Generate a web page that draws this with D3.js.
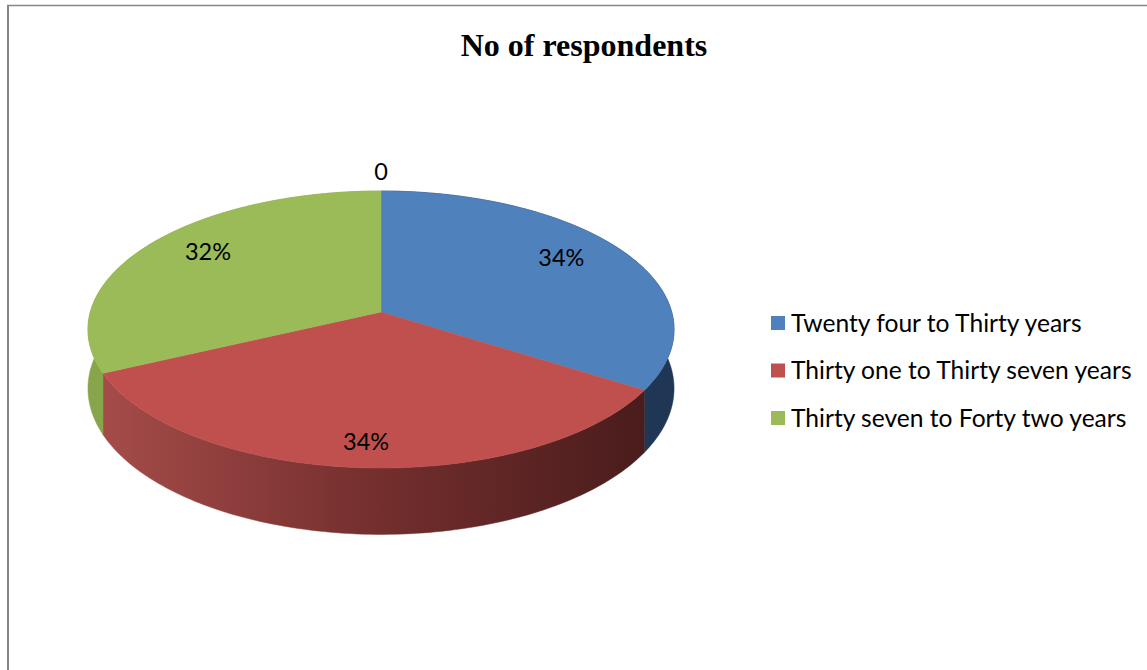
<!DOCTYPE html>
<html>
<head>
<meta charset="utf-8">
<script src="https://cdn.jsdelivr.net/npm/d3@7"></script>
<style>
  body { margin: 0; background: #fff; }
  svg { display: block; }
</style>
</head>
<body>
<div id="chart"></div>
<script>
// data (last point is the zero entry labelled "0" at the top)
const categories = ["Twenty four to Thirty years", "Thirty one to Thirty seven years", "Thirty seven to Forty two years", ""]
const values = [34, 34, 32, 0]
const title = "No of respondents"

const topColors = ["#4f81bd", "#c0504d", "#9bbb59", "#ffffff"]
const sideColors = ["#1f3654", "url(#redSide)", "#87a54b", "#ffffff"]

const width = 1147, height = 670
// 3d disc projection
const cx = 381, cy = 312, A = 290.7, B = 136.3, k = 0.1264, depth = 58

const svg = d3.select("#chart")
    .append("svg")
    .attr("width", width)
    .attr("height", height)

const defs = svg.append("defs")
const grad = defs.append("linearGradient")
    .attr("id", "redSide")
    .attr("gradientUnits", "userSpaceOnUse")
    .attr("x1", 100).attr("y1", 0)
    .attr("x2", 645).attr("y2", 0)
grad.append("stop").attr("offset", 0).attr("stop-color", "#a54c49")
grad.append("stop").attr("offset", 0.5).attr("stop-color", "#742f2e")
grad.append("stop").attr("offset", 1).attr("stop-color", "#4a1c1c")

// chart area border (only top and left show in the crop)
svg.append("line")
    .attr("x1", 7).attr("y1", 5.5).attr("x2", width).attr("y2", 5.5)
    .attr("stroke", "#868686").attr("stroke-width", 1.5)
svg.append("line")
    .attr("x1", 8).attr("y1", 5).attr("x2", 8).attr("y2", height)
    .attr("stroke", "#868686").attr("stroke-width", 2)

svg.append("text")
    .attr("x", 584)
    .attr("y", 56)
    .attr("text-anchor", "middle")
    .attr("font-family", "'Liberation Serif', 'Times New Roman', serif")
    .attr("font-weight", "bold")
    .attr("font-size", 32)
    .text(title)

function project(a, r, drop) {
    const u = r * Math.sin(a), v = -r * Math.cos(a)
    const w = 1 - k * v
    return [cx + A * u / w, cy + B * v / w + (drop || 0) / w]
}

function labelPoint(a, r) {
    const u = r * Math.sin(a), v = -r * Math.cos(a)
    const w = 1 - k * v
    return [cx + A * u / w, cy + 1.17 * B * v / w]
}

function rim(a0, a1, drop) {
    const n = Math.max(2, Math.ceil((a1 - a0) / 0.02))
    return d3.range(n + 1).map(i => project(a0 + (a1 - a0) * i / n, 1, drop))
}

const pie = d3.pie().sort(null).value(d => d)
const arcs = pie(values)
const line = d3.line()

// sides first, the back parts get covered by the top face
svg.append("g").selectAll("path")
    .data(arcs.filter(d => d.value > 0))
    .join("path")
    .attr("d", d => line(rim(d.startAngle, d.endAngle, 0).concat(rim(d.startAngle, d.endAngle, depth).reverse())) + "Z")
    .attr("fill", d => sideColors[d.index])
    .attr("stroke", d => sideColors[d.index])
    .attr("stroke-width", 0.5)

svg.append("g").selectAll("path")
    .data(arcs.filter(d => d.value > 0))
    .join("path")
    .attr("d", d => line([project(0, 0)].concat(rim(d.startAngle, d.endAngle, 0))) + "Z")
    .attr("fill", d => topColors[d.index])
    .attr("stroke", d => topColors[d.index])
    .attr("stroke-width", 0.5)

const total = d3.sum(values)
const pct = d3.format(".0%")
svg.append("g").selectAll("text")
    .data(arcs)
    .join("text")
    .attr("transform", d => {
        const mid = (d.startAngle + d.endAngle) / 2
        const p = d.value > 0 ? labelPoint(mid, 0.74) : labelPoint(mid, 0.99)
        return "translate(" + p[0] + "," + p[1] + ")"
    })
    .attr("text-anchor", "middle")
    .attr("dy", "0.35em")
    .attr("font-family", "Lato, 'Open Sans', sans-serif")
    .attr("font-size", 23.5)
    .attr("fill", "#000")
    .text(d => d.value > 0 ? pct(d.value / total) : "0")

const legend = svg.append("g")
    .selectAll("g")
    .data(categories.filter((c, i) => values[i] > 0))
    .join("g")
    .attr("transform", (d, i) => "translate(771," + (316 + i * 47.5) + ")")
legend.append("rect")
    .attr("width", 14).attr("height", 14)
    .attr("fill", (d, i) => topColors[i])
legend.append("text")
    .attr("x", 20)
    .attr("y", 7)
    .attr("dy", "0.35em")
    .attr("font-family", "Lato, 'Open Sans', sans-serif")
    .attr("font-size", 24.6)
    .attr("fill", "#000")
    .text(d => d)
</script>
</body>
</html>
